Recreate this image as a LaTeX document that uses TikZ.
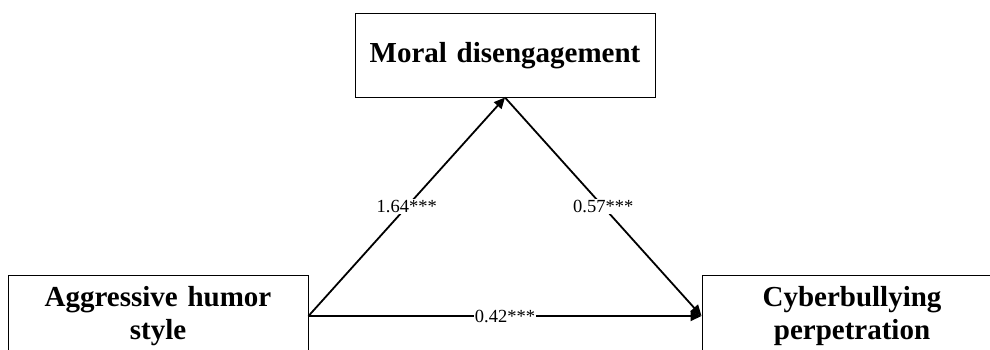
\documentclass[tikz,border=0pt]{standalone}
\usepackage{fontspec}
\setmainfont{Liberation Serif}
\usetikzlibrary{arrows.meta,positioning}

\begin{document}
\begin{tikzpicture}[x=1pt, y=1pt,
  var/.style={
    draw, line width=1pt,
    minimum width=300pt, minimum height=83pt,
    text width=280pt, align=center,
    font=\fontsize{29}{33}\selectfont\bfseries
  },
  path/.style={-{Triangle[length=11pt, width=10pt]}, line width=1.8pt},
  coef/.style={fill=white, inner sep=1pt,
    font=\fontsize{18.5}{20}\selectfont}]

% Frame — the figure is cropped at the bottom and right
\useasboundingbox (0,0) rectangle (990,349);
\clip (0,0) rectangle (990,349);

% Variable boxes
\node[var] (md) at (505,293.5) {Moral disengagement};
\node[var, minimum height=82pt] (ahs) at (158,33)
  {Aggressive humor\\style};
\node[var, minimum height=82pt] (cbp) at (852,33)
  {Cyberbullying\\perpetration};

% Paths with coefficients
\draw[path] (ahs.east) -- (md.south)
  node[midway, coef] {1.64***};
\draw[path] (md.south) -- (cbp.west)
  node[midway, coef] {0.57***};
\draw[path] (ahs.east) -- (cbp.west)
  node[midway, coef] {0.42***};

\end{tikzpicture}
\end{document}
